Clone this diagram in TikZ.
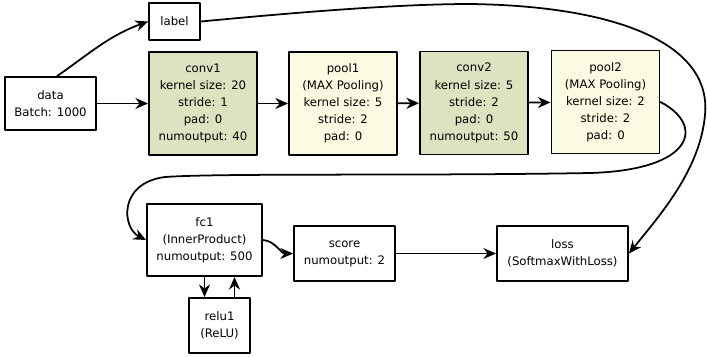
\documentclass[tikz,border=0pt]{standalone}
\usepackage{fontspec}
\setmainfont{DejaVu Sans}
\usetikzlibrary{arrows.meta}

\definecolor{convfill}{HTML}{DCE3C0}
\definecolor{poolfill}{HTML}{FBFBE3}

\tikzset{
  layer/.style={draw, line width=1.6pt, align=center, inner sep=0pt, fill=white,
    font=\fontsize{10}{14.6}\selectfont},
  convbox/.style={layer, fill=convfill, minimum width=3.24cm, minimum height=3.09cm},
  poolbox/.style={layer, fill=poolfill, minimum width=3.24cm, minimum height=3.09cm},
  arr/.style={line width=1.5pt, -{Stealth[length=3.8mm,width=3.3mm]}}
}

\begin{document}
\begin{tikzpicture}[x=0.03cm, y=-0.03cm, line join=round, line cap=round]

        \useasboundingbox (0,0) rectangle (707,356);

        % Couches du réseau
        \node[layer, minimum width=2.73cm, minimum height=1.59cm] (data) at (50.5,103.5) {data\\Batch: 1000};
        \node[layer, minimum width=1.53cm, minimum height=1.11cm] (label) at (174.5,21.5) {label};

        \node[convbox] (conv1) at (203,103.5) {conv1\\kernel size: 20\\stride: 1\\pad: 0\\numoutput: 40};
        \node[poolbox] (pool1) at (343,103.5) {pool1\\(MAX Pooling)\\kernel size: 5\\stride: 2\\pad: 0};
        \node[convbox] (conv2) at (474,103) {conv2\\kernel size: 5\\stride: 2\\pad: 0\\numoutput: 50};
        \node[poolbox] (pool2) at (605.5,102) {pool2\\(MAX Pooling)\\kernel size: 2\\stride: 2\\pad: 0};

        \node[layer, minimum width=3.45cm, minimum height=2.16cm] (fc1) at (204.5,240) {fc1\\(InnerProduct)\\numoutput: 500};
        \node[layer, minimum width=3.03cm, minimum height=1.65cm] (score) at (344.5,253.5) {score\\numoutput: 2};
        \node[layer, minimum width=3.93cm, minimum height=1.65cm] (loss) at (562.5,253.5) {loss\\(SoftmaxWithLoss)};
        \node[layer, minimum width=1.83cm, minimum height=1.65cm] (relu1) at (219.5,325.5) {relu1\\(ReLU)};

        % Liaisons
        \draw[arr] ([xshift=0.2cm]data.north) to[out=35, in=200] (label.west);
        \draw[arr] (data) -- (conv1);
        \draw[arr] (conv1) -- (pool1);
        \draw[arr] (pool1) -- (conv2);
        \draw[arr] (conv2) -- (pool2);

        % retour vers fc1
        \draw[arr] (pool2.east) .. controls (705,125) and (695,170) .. (590,173)
                   .. controls (420,176) and (220,173) .. (165,177)
                   .. controls (118,183) and (122,228) .. (fc1.west);

        % label vers loss
        \draw[arr] (label.east) .. controls (300,12) and (400,4) .. (470,4)
                   .. controls (620,6) and (712,45) .. (705,115)
                   .. controls (700,170) and (660,215) .. (loss.east);

        \draw[arr] (fc1.east) to[out=-5, in=180] (score.west);
        \draw[arr] (score) -- (loss);

        \draw[arr] ([xshift=-0.45cm]relu1.north |- fc1.south) -- ([xshift=-0.45cm]relu1.north);
        \draw[arr] ([xshift=0.45cm]relu1.north) -- ([xshift=0.45cm]relu1.north |- fc1.south);

\end{tikzpicture}
\end{document}
